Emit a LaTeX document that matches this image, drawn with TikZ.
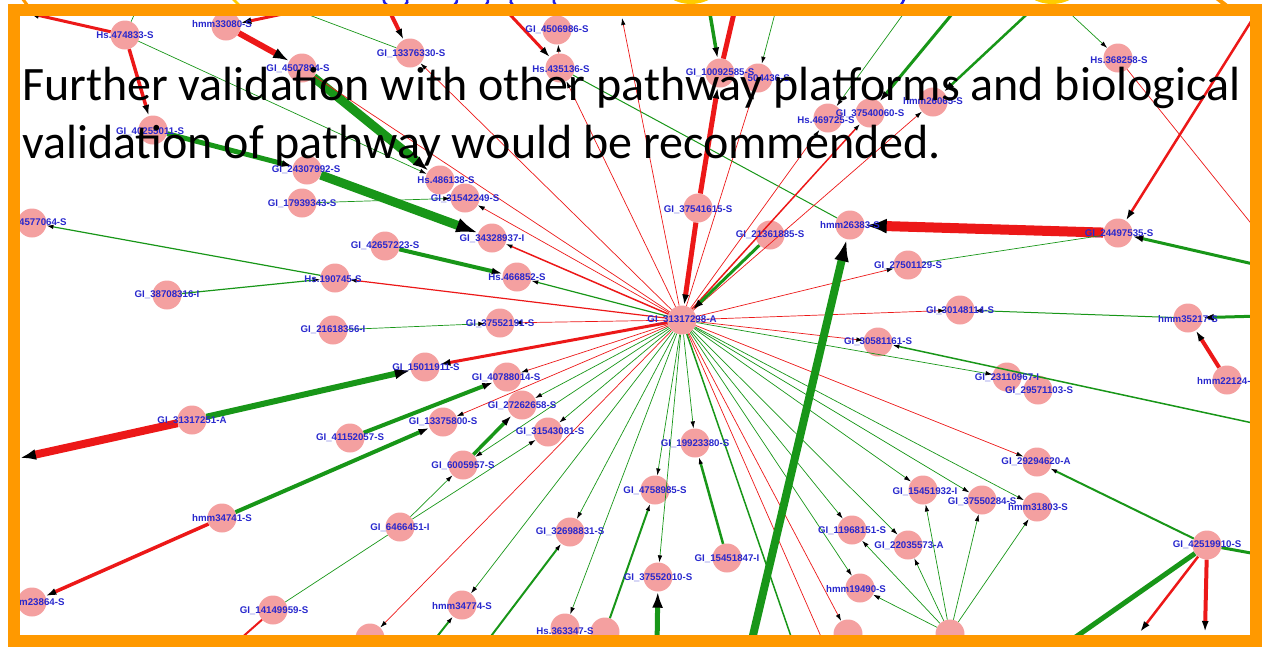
\documentclass[tikz,border=0pt]{standalone}
\usepackage{fontspec}
\setmainfont{Carlito}
\newfontfamily\lblfont{Liberation Sans}
\usetikzlibrary{arrows.meta}
\definecolor{er}{RGB}{236,24,24}
\definecolor{eg}{RGB}{24,150,24}
\definecolor{np}{RGB}{244,160,160}
\definecolor{lb}{RGB}{40,40,205}
\definecolor{fr}{RGB}{255,153,0}
\definecolor{fy}{RGB}{255,204,0}
\definecolor{fb}{RGB}{30,30,230}
\tikzset{
 nd/.style={circle,fill=np,minimum size=29pt,inner sep=0pt},
 lbl/.style={font=\lblfont\bfseries\fontsize{9.7}{10}\selectfont,text=lb,inner sep=0pt},
 rt/.style={draw=er,line width=0.7pt},
 gt/.style={draw=eg,line width=0.7pt},
 re/.style={draw=er,line width=#1},
 ge/.style={draw=eg,line width=#1},
 a1/.style={-{Latex[color=black,length=7pt,width=4.5pt]}},
 a2/.style={-{Latex[color=black,length=11pt,width=7pt]}},
 a3/.style={-{Latex[color=black,length=16pt,width=11pt]}},
 a4/.style={-{Latex[color=black,length=22pt,width=15pt]}},
 bigtext/.style={anchor=base west,inner sep=0pt,font=\fontsize{48}{56}\selectfont,text=black}
}
\begin{document}
\begin{tikzpicture}[x=1pt,y=-1pt]
\useasboundingbox (0,0) rectangle (1269,649);
% fragments above the frame
\fill[fy] (691,-16) ellipse [x radius=29, y radius=20];
\fill[fy] (1052,-16) ellipse [x radius=29, y radius=20];
\draw[fy,line width=2.5pt] (232,-2) -- (242,8);
\draw[fr,line width=3pt] (22,-2) -- (28,6);
\draw[fr,line width=4pt] (1214,-4) -- (1232,10);
\draw[fb,line width=2.5pt] (388,-8) .. controls (380,0) and (384,6) .. (394,7);
\draw[fb,line width=2.5pt] (404,-6) .. controls (410,0) and (408,5) .. (400,8);
\draw[fb,line width=2.5pt] (455,-6) .. controls (460,0) and (456,5) .. (450,8);
\draw[fb,line width=2.5pt] (486,-6) .. controls (490,0) and (488,5) .. (482,8);
\draw[fb,line width=2.5pt] (514,-6) .. controls (508,0) and (510,5) .. (518,8);
\draw[fb,line width=2.5pt] (556,-6) .. controls (552,0) and (553,5) .. (560,8);
\draw[fb,line width=2.5pt] (906,-6) .. controls (904,0) and (902,5) .. (898,8);

\begin{scope}
\clip (20,16) rectangle (1250,635);
% free ends
\coordinate (cTL) at (28,13);
\coordinate (cT0) at (140,2);
\coordinate (cT1) at (330,4);
\coordinate (cT2) at (385,2);
\coordinate (cT3) at (280,4);
\coordinate (cT4) at (500,4);
\coordinate (cT5) at (622,18);
\coordinate (cT6) at (737,0);
\coordinate (cT7) at (708,2);
\coordinate (cT8) at (778,2);
\coordinate (cT9) at (912,2);
\coordinate (cT10) at (962,2);
\coordinate (cT11) at (1040,2);
\coordinate (cT12) at (1062,6);
\coordinate (cT13) at (1262,4);
\coordinate (cR1) at (1262,237);
\coordinate (cR2) at (1262,266);
\coordinate (cR3) at (1262,316);
\coordinate (cR4) at (1262,425);
\coordinate (cR5) at (1262,555);
\coordinate (cB1) at (826,648);
\coordinate (cB2) at (795,648);
\coordinate (cB3) at (657,648);
\coordinate (cB4) at (750,648);
\coordinate (cB5) at (230,648);
\coordinate (cB6) at (482,648);
\coordinate (cB7) at (428,648);
\coordinate (cB8) at (1140,632);
\coordinate (cB9) at (1205,632);
\coordinate (cB10) at (1060,648);
\coordinate (cL1) at (20,458);

% circles
\node[nd] (n474833) at (125,35) {};
\node[nd] (hmm33080) at (226,26) {};
\node[nd] (g4507894) at (302,68) {};
\node[nd] (g40255011) at (153,130) {};
\node[nd] (g24307992) at (307,170) {};
\node[nd] (g17939343) at (302,203) {};
\node[nd] (g4577064) at (32,223) {};
\node[nd] (g13376330) at (410,53) {};
\node[nd] (g4506986) at (557,30) {};
\node[nd] (hs435136) at (560,68) {};
\node[nd] (hs486138) at (440,180) {};
\node[nd] (g31542249) at (465,198) {};
\node[nd] (g4504436) at (758,78) {};
\node[nd] (g10092585) at (720,73) {};
\node[nd] (hs469725) at (828,118) {};
\node[nd] (g37540060) at (870,113) {};
\node[nd] (hmm26065) at (933,102) {};
\node[nd] (hs368258) at (1118,58) {};
\node[nd] (g37541615) at (698,208) {};
\node[nd] (g21361885) at (770,235) {};
\node[nd] (hmm26383) at (850,225) {};
\node[nd] (g27501129) at (908,265) {};
\node[nd] (hub) at (682,320) {};
\node[nd] (g30148114) at (960,310) {};
\node[nd] (g30581161) at (878,342) {};
\node[nd] (g24497535) at (1118,233) {};
\node[nd] (hmm35217) at (1188,318) {};
\node[nd] (hmm22124) at (1227,380) {};
\node[nd] (g23110967) at (1007,377) {};
\node[nd] (g29571103) at (1038,390) {};
\node[nd] (g38708316) at (167,295) {};
\node[nd] (hs190745) at (335,278) {};
\node[nd] (g21618356) at (333,330) {};
\node[nd] (g31317251) at (192,420) {};
\node[nd] (g34328937) at (492,238) {};
\node[nd] (g42657223) at (385,246) {};
\node[nd] (hs466852) at (517,277) {};
\node[nd] (g37552191) at (500,323) {};
\node[nd] (g15011911) at (425,367) {};
\node[nd] (g40788014) at (507,377) {};
\node[nd] (g27262658) at (522,405) {};
\node[nd] (g13375800) at (443,422) {};
\node[nd] (g41152057) at (350,438) {};
\node[nd] (g31543081) at (548,432) {};
\node[nd] (g6005957) at (463,465) {};
\node[nd] (g6466451) at (400,527) {};
\node[nd] (g32698831) at (570,532) {};
\node[nd] (hmm34774) at (462,605) {};
\node[nd] (hs363347) at (565,628) {};
\node[nd] (b24998) at (605,632) {};
\node[nd] (g14149959) at (273,610) {};
\node[nd] (hmm34741) at (222,518) {};
\node[nd] (m23864) at (32,602) {};
\node[nd] (g19923380) at (695,443) {};
\node[nd] (g4758985) at (655,490) {};
\node[nd] (g15451847) at (727,558) {};
\node[nd] (g37552010) at (658,577) {};
\node[nd] (g11968151) at (852,530) {};
\node[nd] (g22035573) at (908,545) {};
\node[nd] (hmm19490) at (860,588) {};
\node[nd] (g15451932) at (923,490) {};
\node[nd] (b848) at (848,634) {};
\node[nd] (hs473365) at (950,634) {};
\node[nd] (b370) at (370,638) {};
\node[nd] (g29294620) at (1037,462) {};
\node[nd] (g37550284) at (982,500) {};
\node[nd] (hmm31803) at (1037,507) {};
\node[nd] (g42519910) at (1207,545) {};

% edges
\draw[re=3pt,a2] (n474833) -- (cTL);
\draw[re=3.5pt,a2] (n474833) -- (g40255011);
\draw[gt] (cT0) -- (n474833);
\draw[gt,a1] (n474833) -- (hs486138);
\draw[re=6pt,a3] (hmm33080) -- (g4507894);
\draw[re=3pt,a2] (cT1) -- (hmm33080);
\draw[ge=9pt,a3] (g4507894) -- (hs486138);
\draw[re=4pt,a2] (cT2) -- (g13376330);
\draw[gt] (cT3) -- (g13376330);
\draw[rt,a1] (hub) -- (g13376330);
\draw[re=3pt,a2] (cT4) -- (hs435136);
\draw[rt,a1] (hs435136) -- (g4506986);
\draw[ge=1pt] (hs435136) -- (hmm26383);
\draw[rt,a1] (hub) -- (hs435136);
\draw[rt,a1] (hub) -- (cT5);
\draw[re=5pt,a2] (g37541615) -- (g10092585);
\draw[re=5pt] (g10092585) -- (cT6);
\draw[ge=3.5pt,a2] (cT7) -- (g10092585);
\draw[gt,a1] (cT8) -- (g4504436);
\draw[rt,a1] (hub) -- (g4504436);
\draw[rt,a1] (hub) -- (hs469725);
\draw[re=1.5pt,a1] (hub) -- (g37540060);
\draw[rt,a1] (hub) -- (hmm26065);
\draw[gt,a1] (cT9) -- (hs469725);
\draw[ge=3pt,a2] (cT10) -- (g37540060);
\draw[ge=2.5pt,a2] (cT11) -- (hmm26065);
\draw[gt,a1] (cT12) -- (hs368258);
\draw[re=2.5pt,a2] (cT13) -- (g24497535);
\draw[rt] (hs368258) -- (cR1);
\draw[re=5pt,a2] (g37541615) -- (hub);
\draw[ge=3pt,a2] (g21361885) -- (hub);
\draw[rt,a1] (hub) -- (g27501129);
\draw[rt,a1] (hub) -- (g30148114);
\draw[rt,a1] (hub) -- (g30581161);
\draw[ge=1pt,a1] (hmm35217) -- (g30148114);
\draw[re=10pt,a4] (g24497535) -- (hmm26383);
\draw[ge=3pt,a2] (cR2) -- (g24497535);
\draw[gt] (g24497535) -- (g27501129);
\draw[ge=3pt,a2] (cR3) -- (hmm35217);
\draw[re=4pt,a2] (hmm22124) -- (hmm35217);
\draw[gt,a1] (hub) -- (g23110967);
\draw[ge=1.5pt,a1] (cR4) -- (g30581161);
\draw[rt,a1] (hub) -- (g29294620);
\draw[gt,a1] (hub) -- (hmm31803);
\draw[gt,a1] (hub) -- (g37550284);
\draw[gt,a1] (hub) -- (g15451932);
\draw[gt,a1] (hub) -- (g11968151);
\draw[gt,a1] (hub) -- (g22035573);
\draw[gt,a1] (hub) -- (hmm19490);
\draw[rt,a1] (hub) -- (b848);
\draw[rt] (hub) -- (cB1);
\draw[ge=1.5pt] (hub) -- (cB2);
\draw[gt,a1] (hub) -- (g19923380);
\draw[gt,a1] (hub) -- (g4758985);
\draw[gt,a1] (hub) -- (g37552010);
\draw[ge=2pt,a1] (b24998) -- (g4758985);
\draw[ge=5pt,a3] (cB3) -- (g37552010);
\draw[ge=2.5pt,a1] (g15451847) -- (g19923380);
\draw[ge=8pt,a4] (cB4) -- (hmm26383);
\draw[gt,a1] (hub) -- (hmm34774);
\draw[gt,a1] (hub) -- (g32698831);
\draw[gt,a1] (hub) -- (hs363347);
\draw[rt,a1] (hub) -- (b370);
\draw[gt,a1] (g6466451) -- (g6005957);
\draw[gt,a1] (g6466451) -- (g31543081);
\draw[gt] (g14149959) -- (g6466451);
\draw[re=2pt] (g14149959) -- (cB5);
\draw[ge=3.5pt,a2] (g6005957) -- (g27262658);
\draw[gt,a1] (hub) -- (g6005957);
\draw[rt,a1] (hub) -- (g40788014);
\draw[gt,a1] (hub) -- (g27262658);
\draw[gt,a1] (hub) -- (g31543081);
\draw[rt,a1] (hub) -- (g13375800);
\draw[ge=4pt,a2] (g41152057) -- (g40788014);
\draw[ge=4pt,a2] (hmm34741) -- (g13375800);
\draw[re=3.5pt,a2] (hmm34741) -- (m23864);
\draw[ge=6pt,a3] (g31317251) -- (g15011911);
\draw[re=8pt,a3] (g31317251) -- (cL1);
\draw[re=3pt,a2] (hub) -- (g15011911);
\draw[rt,a1] (hub) -- (g37552191);
\draw[gt,a1] (g21618356) -- (g37552191);
\draw[re=1.2pt,a1] (hub) -- (hs190745);
\draw[ge=1.2pt,a1] (g38708316) -- (hs190745);
\draw[ge=1.2pt,a1] (hs190745) -- (g4577064);
\draw[ge=1.2pt,a1] (hub) -- (hs466852);
\draw[ge=4pt,a2] (g42657223) -- (hs466852);
\draw[re=1.5pt,a1] (hub) -- (g34328937);
\draw[ge=9pt,a4] (g24307992) -- (g34328937);
\draw[gt,a1] (g17939343) -- (g31542249);
\draw[rt,a1] (hub) -- (g31542249);
\draw[rt] (hub) -- (g4507894);
\draw[ge=5pt,a2] (g40255011) -- (g24307992);
\draw[ge=2pt,a1] (cB6) -- (g32698831);
\draw[ge=2pt,a1] (cB7) -- (hmm34774);
\draw[gt,a1] (hs473365) -- (g11968151);
\draw[gt,a1] (hs473365) -- (g22035573);
\draw[gt,a1] (hs473365) -- (hmm19490);
\draw[gt,a1] (hs473365) -- (g15451932);
\draw[gt,a1] (hs473365) -- (g37550284);
\draw[gt,a1] (hs473365) -- (hmm31803);
\draw[ge=2pt,a1] (g42519910) -- (g29294620);
\draw[ge=3pt] (cR5) -- (g42519910);
\draw[re=2.5pt,a2] (g42519910) -- (cB8);
\draw[re=4pt,a2] (g42519910) -- (cB9);
\draw[ge=5pt] (g42519910) -- (cB10);

% labels
\node[lbl] (l474833) at (125,35) {Hs.474833-S};
\node[lbl] (lhmm33080) at (222,24) {hmm33080-S};
\node[lbl] (l4507894) at (298,69) {GI\_4507894-S};
\node[lbl] (l40255011) at (150,132) {GI\_40255011-S};
\node[lbl] (l24307992) at (306,170) {GI\_24307992-S};
\node[lbl] (l17939343) at (302,204) {GI\_17939343-S};
\node[lbl,anchor=west] (l4577064) at (19,222) {4577064-S};
\node[lbl] (l13376330) at (411,54) {GI\_13376330-S};
\node[lbl] (l4506986) at (557,30) {GI\_4506986-S};
\node[lbl] (l435136) at (561,69) {Hs.435136-S};
\node[lbl] (l486138) at (446,180) {Hs.486138-S};
\node[lbl] (l31542249) at (465,199) {GI\_31542249-S};
\node[lbl] (l10092585) at (720,73) {GI\_10092585-S};
\node[lbl,anchor=east] (l4504436) at (790,78) {504436-S};
\node[lbl] (l469725) at (826,120) {Hs.469725-S};
\node[lbl] (l37540060) at (870,114) {GI\_37540060-S};
\node[lbl] (lhmm26065) at (933,101) {hmm26065-S};
\node[lbl] (l368258) at (1119,60) {Hs.368258-S};
\node[lbl] (l37541615) at (698,210) {GI\_37541615-S};
\node[lbl] (l21361885) at (770,235) {GI\_21361885-S};
\node[lbl] (lhmm26383) at (850,225) {hmm26383-S};
\node[lbl] (l27501129) at (908,266) {GI\_27501129-S};
\node[lbl] (lhub) at (682,320) {GI\_31317298-A};
\node[lbl] (l30148114) at (960,311) {GI\_30148114-S};
\node[lbl] (l30581161) at (878,342) {GI\_30581161-S};
\node[lbl] (l24497535) at (1119,234) {GI\_24497535-S};
\node[lbl] (lhmm35217) at (1188,319) {hmm35217-S};
\node[lbl,anchor=west] (lhmm22124) at (1197,381) {hmm22124-};
\node[lbl] (l23110967) at (1007,378) {GI\_23110967-I};
\node[lbl] (l29571103) at (1039,391) {GI\_29571103-S};
\node[lbl] (l38708316) at (167,295) {GI\_38708316-I};
\node[lbl] (l190745) at (333,279) {Hs.190745-S};
\node[lbl] (l21618356) at (333,330) {GI\_21618356-I};
\node[lbl] (l31317251) at (192,421) {GI\_31317251-A};
\node[lbl] (l34328937) at (492,239) {GI\_34328937-I};
\node[lbl] (l42657223) at (385,246) {GI\_42657223-S};
\node[lbl] (l466852) at (517,277) {Hs.466852-S};
\node[lbl] (l37552191) at (500,324) {GI\_37552191-S};
\node[lbl] (l15011911) at (426,368) {GI\_15011911-S};
\node[lbl] (l40788014) at (506,378) {GI\_40788014-S};
\node[lbl] (l27262658) at (522,406) {GI\_27262658-S};
\node[lbl] (l13375800) at (443,422) {GI\_13375800-S};
\node[lbl] (l41152057) at (350,438) {GI\_41152057-S};
\node[lbl] (l31543081) at (550,432) {GI\_31543081-S};
\node[lbl] (l6005957) at (463,466) {GI\_6005957-S};
\node[lbl] (l6466451) at (400,528) {GI\_6466451-I};
\node[lbl] (l32698831) at (570,532) {GI\_32698831-S};
\node[lbl] (lhmm34774) at (462,606) {hmm34774-S};
\node[lbl] (l363347) at (565,631) {Hs.363347-S};
\node[lbl] (l14149959) at (274,611) {GI\_14149959-S};
\node[lbl] (lhmm34741) at (222,518) {hmm34741-S};
\node[lbl,anchor=west] (lm23864) at (19,602) {m23864-S};
\node[lbl] (l19923380) at (695,444) {GI\_19923380-S};
\node[lbl] (l4758985) at (655,491) {GI\_4758985-S};
\node[lbl] (l15451847) at (727,559) {GI\_15451847-I};
\node[lbl] (l37552010) at (658,578) {GI\_37552010-S};
\node[lbl] (l11968151) at (852,531) {GI\_11968151-S};
\node[lbl] (l22035573) at (909,546) {GI\_22035573-A};
\node[lbl] (lhmm19490) at (856,589) {hmm19490-S};
\node[lbl] (l15451932) at (925,492) {GI\_15451932-I};
\node[lbl] (l29294620) at (1036,462) {GI\_29294620-A};
\node[lbl] (l37550284) at (982,502) {GI\_37550284-S};
\node[lbl] (lhmm31803) at (1038,507) {hmm31803-S};
\node[lbl] (l42519910) at (1207,545) {GI\_42519910-S};

% overlay text
\node[bigtext] (t1) at (22,100) {Further validation with other pathway platforms and biological};
\node[bigtext] (t2) at (22,158) {validation of pathway would be recommended.};
\end{scope}

% frame
\draw[fr,line width=12pt] (14,10) rectangle (1256,641);
\end{tikzpicture}
\end{document}
